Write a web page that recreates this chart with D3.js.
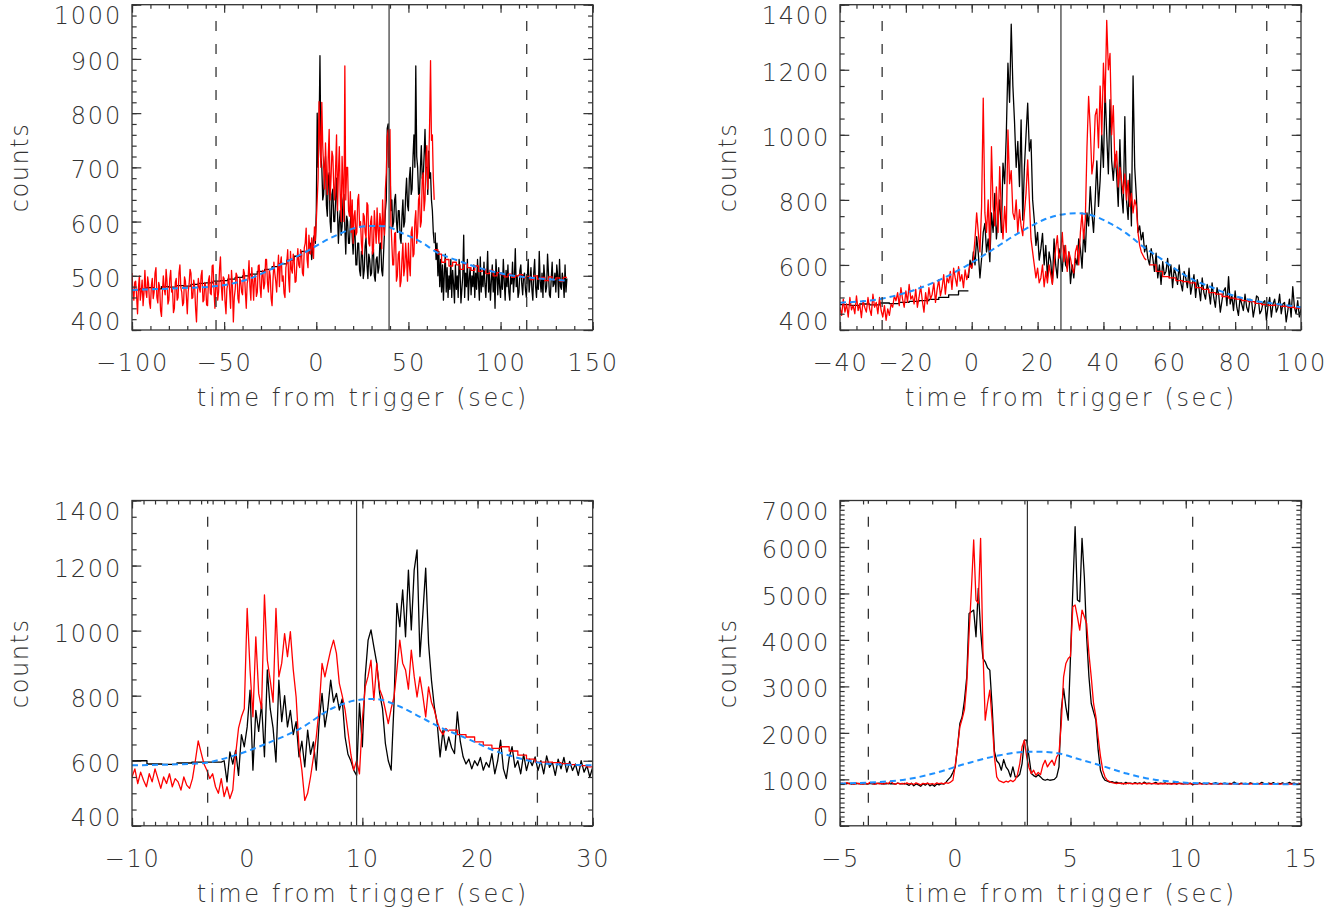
<!DOCTYPE html>
<html>
<head>
<meta charset="utf-8">
<script src="https://cdn.jsdelivr.net/npm/d3@7"></script>
<style>
  body { margin: 0; background: #fff; }
  svg text { font-family: 'DejaVu Sans', sans-serif; font-weight: 200; font-size: 24px; fill: #333; letter-spacing: 1.8px; }
</style>
</head>
<body>
<svg id="chart" width="1342" height="911"></svg>
<script>
// ---- panel 1 (time in s, counts) ----
const p1RedPre = [
  505, 470, 455, 488, 490, 462, 430, 478, 500, 455, 470, 492, 445, 468, 510, 472, 460, 498, 485, 450,
  440, 482, 495, 458, 470, 505, 515, 460, 450, 488, 480, 436, 425, 470, 500, 476, 465, 512, 490, 448,
  455, 495, 510, 470, 475, 432, 440, 488, 495, 455, 460, 505, 520, 478, 470, 445, 450, 498, 490, 462,
  430, 470, 485, 512, 505, 458, 460, 492, 480, 440, 415, 466, 495, 478, 470, 500, 510, 452, 455, 488,
  480, 446, 445, 492, 500, 468, 465, 518, 520, 470, 440, 488, 490, 455, 470, 512, 535, 480, 455, 498,
  495, 452, 430, 476, 485, 502, 470, 440, 510, 482, 415, 460, 475, 505, 500, 458, 450, 496, 490, 470,
  465, 512, 505, 470, 440, 486, 495, 528, 480, 455, 515, 490, 455, 500, 500, 462, 470, 518, 520, 480,
  460, 502, 510, 476, 485, 530, 530, 488, 470, 512, 500, 458, 445, 492, 525, 505, 490, 470, 510, 538,
  480, 522, 535, 490, 500, 468, 460, 515, 525, 548, 495, 470, 545, 512, 505, 540, 530, 488, 490, 525,
  550, 520, 515, 548, 540, 505, 500, 552, 560, 588, 530, 515, 575, 548, 540, 570, 555, 532, 590, 565,
  600
];
const p1RedBurst = [
  600, 640, 680, 821, 760, 700, 820, 740, 700, 660, 745, 690, 650, 720, 770, 640, 680, 730, 720, 660,
  640, 700, 760, 620, 690, 738, 650, 600, 720, 671, 600, 887, 640, 700, 700, 620, 610, 655, 580, 640,
  560, 610, 620, 575, 580, 640, 650, 590, 600, 560, 540, 615, 610, 580, 570, 635, 630, 560, 555, 600,
  610, 540, 545, 620, 590, 560, 625, 585, 560, 615, 600, 550, 640, 590, 575, 660, 690, 757, 769, 700,
  770, 600, 560, 520, 520, 578, 580, 490, 500, 540, 545, 480, 490, 530, 560, 500, 515, 560, 530, 490,
  560, 520, 500, 580, 590, 535, 540, 600, 620, 560, 580, 640, 650, 590, 600, 680, 690, 620, 640, 720,
  740, 660, 700, 780, 897, 750, 760, 680, 640
];
const p1RedBin = [
  548, 540, 525, 530, 518, 525, 520, 512, 522, 515, 510, 518, 508, 512, 504, 510, 500, 506,
  502, 498, 503, 497, 500, 502, 496, 499, 493, 500, 494, 497, 491, 498, 493, 496, 490, 497
];
const p1BlackBin = [
  474, 476, 478, 476, 480, 479, 482, 481, 484, 486, 487, 490,
  491, 494, 497, 500, 503, 508, 512, 517, 522, 529, 536, 545
];
const p1BlackBurst = [
  540, 552, 560, 530, 548, 570, 575, 560,
  620, 800, 700, 760, 906, 720, 700, 640, 650, 700, 720, 630, 610, 680, 690, 600, 580, 650, 660, 600,
  600, 640, 680, 620, 560, 600, 620, 575, 590, 640, 650, 590, 540, 610, 600, 560, 560, 600, 620, 570,
  540, 585, 580, 520, 520, 560, 560, 510, 500, 545, 545, 495, 510, 555, 570, 520, 495, 540, 530, 500,
  505, 545, 550, 500, 490, 530, 535, 505, 515, 560, 560, 510, 500, 540, 580, 620, 640, 772, 780, 700,
  700, 620, 640, 590, 600, 640, 650, 600, 580, 620, 620, 570, 560, 610, 640, 590, 600, 650, 680, 630,
  620, 680, 700, 650, 660, 720, 760, 700, 887, 720, 700, 650, 650, 700, 740, 680, 680, 720, 770, 700,
  700, 650, 730, 680, 690, 640, 620, 580, 560
];
const p1BlackTail = [
  580,
  530, 560, 500, 545, 480, 530, 470, 520, 455, 505, 540, 470, 515, 460, 500, 475, 530, 460, 510, 485,
  450, 520, 475, 500, 460, 530, 510, 450, 475, 500, 575, 460, 505, 480, 530, 455, 495, 515, 465, 500,
  480, 520, 460, 505, 475, 530, 490, 455, 535, 470, 500, 480, 525, 485, 460, 500, 545, 470, 505, 455,
  490, 520, 470, 505, 440, 530, 500, 465, 515, 480, 460, 505, 475, 530, 490, 455, 510, 480, 520, 470,
  455, 500, 485, 525, 470, 495, 550, 480, 500, 460, 470, 510, 520, 485, 465, 500, 505, 475, 460, 495,
  530, 470, 490, 515, 475, 455, 505, 530, 480, 460, 500, 475, 545, 490, 470, 505, 460, 520, 495, 470,
  480, 540, 505, 465, 460, 495, 525, 480, 485, 505, 470, 520, 500, 460, 530, 480, 475, 505, 490, 460,
  520, 470, 495
];
const p1BlueTime = [-100, -75, -54, -36, -18, -2, 4, 13, 22, 29, 38, 45, 58, 65, 76, 92, 107, 121, 136];
const p1BlueCounts = [474, 477, 481, 495, 523, 551, 563, 578, 589, 592, 591, 581, 560, 544, 529, 511, 500, 495, 491];

// ---- panel 2 ----
const p2RedFine = [
  470, 445, 495, 455, 480, 440, 500, 462, 475, 450, 505, 460, 480, 438, 490, 470, 455, 500, 465, 445,
  510, 470, 485, 450, 500, 460, 440, 475, 430, 465, 445, 480, 470, 505, 490, 515, 475, 530, 495, 470,
  520, 485, 540, 495, 505, 480, 525, 470, 500, 535, 490, 455, 515, 480, 530, 495, 510, 545, 485, 525,
  555, 505, 530, 570, 510, 560, 545, 580, 525, 590, 560, 535, 595, 550, 570, 530, 585, 555, 575, 600,
  590, 620, 680, 760, 700, 640, 780, 1113, 760, 700, 800, 640, 964, 780, 720, 840, 700, 902, 760, 680,
  780, 700, 1015, 850, 890, 760, 740, 800, 700, 770, 720, 690, 760, 820, 923, 800, 680, 640, 600, 560,
  590, 545, 560, 600, 533, 580, 545, 600, 570, 540, 600, 650, 690, 620, 640, 700, 610, 660, 580, 640,
  620, 590, 575, 640, 660, 600, 700, 760, 680, 740, 960, 1118, 1020, 880, 920, 1060, 1080, 960, 1150, 1000,
  1220, 1100, 1352, 1200, 1250, 1000, 1090, 900, 950, 840, 900, 860, 820, 880, 800, 860, 780, 820, 760, 800,
  780, 700, 660, 640, 630, 620, 615
];
const p2RedBin = [
  600, 580, 564, 560, 552, 549, 545, 530, 525, 515, 510, 503,
  498, 495, 490, 487, 482, 478, 476, 477, 473, 470, 467
];
const p2BlackBin = [478, 476, 480, 477, 483, 481, 485, 488, 490, 494, 500, 508, 520];
const p2BlackFine = [
  560, 615, 590, 640, 600, 687, 636, 560, 620, 700, 728, 640, 680, 610, 760, 700, 820, 680, 740, 800,
  700, 913, 850, 1000, 1220, 1100, 1340, 1150, 1040, 900, 980, 841, 1046, 738, 900, 1000, 1097, 950, 985, 800,
  738, 660, 700, 615, 650, 697, 600, 660, 560, 640, 610, 543, 680, 600, 560, 650, 620, 580, 660, 600,
  590, 640, 543, 600, 560, 620, 600, 680, 650, 590, 700, 640, 760, 720, 841, 760, 700, 800, 920, 780,
  860, 1000, 900, 1139, 1000, 880, 1108, 920, 860, 940, 880, 780, 985, 820, 760, 1056, 800, 740, 880, 720,
  1181, 900, 810, 700, 720, 677, 700, 640, 660, 620, 600, 650, 620, 580, 636, 560, 600, 540, 610, 570,
  580, 620, 560, 600, 530, 590, 570, 540, 600, 545, 520, 580, 560, 530, 590, 510, 540, 570, 500, 555,
  530, 490, 560, 515, 495, 540, 520, 480, 545, 500, 470, 530, 510, 455, 490, 520, 530, 475, 564, 480,
  505, 460, 520, 470, 445, 500, 480, 460, 510, 470, 455, 495, 490, 440, 470, 505, 500, 450, 460, 485,
  490, 430, 475, 500, 440, 480, 495, 455, 470, 510, 450, 480, 485, 425, 460, 495, 440, 533, 470, 450,
  490, 440, 465
];
const p2BlueTime = [-40, -27, -12, -2, 8.6, 11.6, 17.7, 21.7, 26.8, 31.9, 35.9, 42, 47, 52.1, 57.2, 62.2, 67.3, 72.4, 77.4, 82.5, 92.6, 100];
const p2BlueCounts = [484, 497, 544, 595, 662, 682, 718, 738, 754, 759, 754, 728, 697, 656, 621, 585, 554, 533, 513, 497, 480, 470];

// ---- panel 3 ----
const p3RedFine = [
  550, 575, 530, 565, 540, 520, 560, 535, 575, 545,
  515, 550, 530, 560, 520, 545, 535, 510, 550, 525,
  515, 545, 600, 661, 625, 590, 571, 545, 560, 520,
  500, 545, 490, 520, 484, 510, 620, 700, 735, 760,
  1068, 879, 735, 981, 807, 760, 1110, 909, 848, 780,
  1068, 858, 900, 991, 920, 997, 880, 796, 640, 571,
  478, 500, 550, 610, 673, 760, 899, 858, 900, 940,
  971, 930, 838, 800, 756, 690, 620, 571, 600, 560,
  725, 827, 860, 909, 786, 899, 820, 796, 756, 714,
  760, 796, 880, 971, 900, 879, 820, 940, 860, 796,
  858, 800, 735, 827, 780, 756, 720, 694, 680, 699,
  690
];
const p3RedBin = [694, 680, 673, 658, 648, 638, 643, 630, 617, 605, 596, 596, 594, 591, 588, 585, 581];
const p3BlackBin = [600, 590, 589, 593, 596];
const p3BlackFine = [
  596, 596, 596, 596, 596, 596, 600, 535, 627, 590, 632, 555, 680, 643,
  704, 817, 571, 755, 690, 776, 612, 879, 760, 700,
  596, 848, 720, 800, 704, 755, 680, 720, 612, 660,
  581, 694, 620, 658, 571, 720, 807, 704, 760, 848,
  780, 807, 756, 790, 673, 620, 600, 571, 555, 776,
  643, 860, 971, 1002, 950, 900, 807, 760, 653, 600,
  571, 776, 1084, 1012, 1125, 981, 1186, 1002, 1186, 1248,
  920, 1050, 1192, 960, 848, 766, 714, 612, 694, 632,
  673, 640, 622, 750, 660, 612, 590, 605, 575, 600,
  585, 610, 571, 595, 580, 622, 560, 600, 663, 575,
  545, 610, 643, 580, 600, 560, 620, 570, 605, 585,
  612, 570, 600, 560, 615, 580, 595, 555, 605, 575,
  610, 565, 598, 570, 590, 555, 600, 565, 585, 550,
  580
];
const p3BlueTime = [-10, -4.1, -1.2, 1.7, 4.6, 7.5, 9.5, 11, 13.3, 15, 16.7, 19.1, 21.4, 23.7, 26, 30];
const p3BlueCounts = [586, 592, 615, 653, 699, 763, 786, 790, 766, 735, 704, 668, 632, 607, 591, 586];

// ---- panel 4 ----
const p4Red = [
  905, 920, 895, 930, 900, 915, 890, 925, 905, 910,
  895, 920, 900, 935, 910, 890, 920, 900, 915, 895,
  925, 905, 960, 910, 890, 920, 900, 915, 895, 925,
  900, 910, 890, 925, 905, 880, 915, 900, 920, 895,
  910, 890, 925, 905, 920, 900, 930, 915, 940, 980,
  1300, 1700, 2129, 2300, 2500, 3063, 4140, 5073, 6150, 4858,
  4786, 6186, 3800, 2273, 2632, 2919, 2273, 1483, 1052, 970,
  950, 930, 960, 940, 980, 950, 990, 1100, 1340, 1700,
  1842, 1483, 1250, 1124, 1196, 1088, 1150, 1100, 1300, 1411,
  1267, 1350, 1411, 1300, 1483, 1555, 2201, 3206, 3493, 3600,
  3650, 4714, 4750, 4498, 4211, 4642, 4498, 4355, 3700, 3206,
  2632, 2350, 1900, 1500, 1196, 1050, 980, 950, 930, 920,
  910, 925, 905, 915, 900, 920, 910, 905, 915, 900,
  912, 905, 918, 900, 910, 908, 915, 902, 910, 905,
  908, 900, 912, 905, 898, 910, 904, 912, 900, 906,
  902, 910, 905, 900, 908, 903, 910, 898, 905, 900,
  906, 900, 908, 902, 896, 905, 900, 907, 899, 904,
  900, 906, 898, 903, 900, 905, 897, 902, 900, 904,
  898, 903, 900, 896, 902, 899, 904, 897, 901, 898,
  902, 897, 900, 904, 896, 901, 898, 902, 896, 900,
  898
];
const p4Black = [
  910, 900, 915, 905, 920, 895, 910, 905, 915, 900,
  910, 905, 895, 915, 900, 910, 905, 920, 900, 910,
  905, 915, 900, 910, 895, 920, 905, 900, 915, 895,
  870, 915, 860, 900, 880, 850, 905, 875, 915, 860,
  890, 850, 900, 880, 910, 895, 940, 1000, 1052, 1150,
  1267, 1698, 2201, 2345, 2700, 3206, 4570, 4606, 4642, 4068,
  5109, 4211, 3601, 3529, 3400, 3350, 2560, 1600, 1400, 1340,
  1196, 1426, 1267, 1200, 1052, 1267, 1052, 1052, 1110, 1340,
  1842, 1842, 1483, 1124, 1080, 1052, 1100, 1052, 1000, 980,
  1000, 980, 990, 1000, 1052, 1267, 2488, 2955, 2560, 2273,
  3637, 5073, 6437, 4858, 4822, 6186, 5360, 4068, 3206, 2632,
  2450, 2273, 1627, 1196, 1052, 980, 960, 940, 950, 930,
  940, 915, 925, 900, 935, 910, 920, 905, 930, 910,
  925, 900, 940, 910, 920, 905, 915, 935, 900, 920,
  910, 925, 900, 915, 905, 930, 895, 920, 910, 900,
  915, 905, 920, 880, 910, 900, 925, 905, 915, 895,
  920, 900, 910, 930, 895, 915, 905, 920, 900, 910,
  905, 940, 910, 895, 920, 905, 915, 900, 925, 910,
  900, 915, 905, 935, 910, 895, 920, 905, 930, 900,
  915, 905, 925, 900, 910, 935, 905, 920, 900, 910,
  905
];
const p4BlueTime = [-5, -2.4, -0.95, 0.49, 1.94, 3.1, 3.82, 4.5, 5.27, 6.28, 7.44, 8.6, 9.6, 10.3, 15];
const p4BlueCounts = [909, 980, 1124, 1340, 1519, 1591, 1591, 1555, 1447, 1303, 1124, 995, 945, 920, 894];

// interval markers (s)
const dashedMarks = [[-54.4, 114.2], [-27.2, 89.6], [-3.43, 25.2], [-3.77, 10.3]];
const solidMarks = [39.5, 27.1, 9.5, 3.13];

const xTitle = 'time from trigger (sec)';
const yTitle = 'counts';

const svg = d3.select('#chart');
const TICK_X = 8, TICK_Y = 9.3;
const INK = '#333';

// a series segment: [start time, bin width, values, drawn as steps]
const panels = [
  {
    box: [132, 4.7, 460.7, 325.3], xDomain: [-100, 150], xMajor: 50, xMinor: 10,
    yDomain: [400, 1000], yMajor: 100, yMinor: 20,
    black: [[-100, 4, p1BlackBin, true], [-4, 0.5, p1BlackBurst, false], [64.5, 0.5, p1BlackTail, false]],
    red: [[-100, 0.5, p1RedPre, false], [0, 0.5, p1RedBurst, false], [64, 2, p1RedBin, true]],
    blue: [p1BlueTime, p1BlueCounts]
  },
  {
    box: [840, 4.7, 461, 325.3], xDomain: [-40, 100], xMajor: 20, xMinor: 5,
    yDomain: [400, 1400], yMajor: 200, yMinor: 50,
    black: [[-40, 3, p2BlackBin, true], [-1, 0.5, p2BlackFine, false]],
    red: [[-40, 0.5, p2RedFine, false], [54, 2, p2RedBin, true]],
    blue: [p2BlueTime, p2BlueCounts]
  },
  {
    box: [132, 500.5, 460.7, 325.3], xDomain: [-10, 30], xMajor: 10, xMinor: 1,
    yDomain: [400, 1400], yMajor: 200, yMinor: 50,
    black: [[-10, 1.3, p3BlackBin, true], [-3.5, 0.25, p3BlackFine, false]],
    red: [[-10, 0.25, p3RedFine, false], [17.5, 0.75, p3RedBin, true]],
    blue: [p3BlueTime, p3BlueCounts]
  },
  {
    box: [840, 500.5, 461, 325.3], xDomain: [-5, 15], xMajor: 5, xMinor: 1,
    yDomain: [0, 7000], yMajor: 1000, yMinor: 100,
    black: [[-5, 0.1, p4Black, false]],
    red: [[-5, 0.1, p4Red, false]],
    blue: [p4BlueTime, p4BlueCounts]
  }
];

const fmt = d => (d < 0 ? '\u2212' + Math.abs(d) : String(d));

function tickSet (domain, step) {
  return d3.range(domain[0], domain[1] + step * 1e-6, step);
}

function segPoints (seg) {
  const [t0, dt, vals, stepped] = seg;
  const pts = vals.map((v, i) => [t0 + i * dt, v]);
  if (stepped) pts.push([t0 + vals.length * dt, vals[vals.length - 1]]);
  return pts;
}

function drawPanel (p, idx) {
  const [left, top, w, h] = p.box;
  const x = d3.scaleLinear().domain(p.xDomain).range([left, left + w]);
  const y = d3.scaleLinear().domain(p.yDomain).range([top + h, top]);

  svg.append('clipPath').attr('id', 'clip' + idx)
    .append('rect').attr('x', left).attr('y', top).attr('width', w).attr('height', h);

  const plot = svg.append('g').attr('clip-path', 'url(#clip' + idx + ')');

  const drawSeg = (seg, color) => {
    const line = d3.line()
      .x(d => x(d[0])).y(d => y(d[1]))
      .curve(seg[3] ? d3.curveStepAfter : d3.curveLinear);
    plot.append('path')
      .datum(segPoints(seg))
      .attr('d', line)
      .attr('fill', 'none')
      .attr('stroke', color)
      .attr('stroke-width', 1.3)
      .attr('stroke-linejoin', 'round');
  };
  p.black.forEach(s => drawSeg(s, '#000'));
  p.red.forEach(s => drawSeg(s, '#ff0000'));

  const blueLine = d3.line().x(d => x(d[0])).y(d => y(d[1])).curve(d3.curveMonotoneX);
  plot.append('path')
    .datum(p.blue[0].map((t, i) => [t, p.blue[1][i]]))
    .attr('d', blueLine)
    .attr('fill', 'none')
    .attr('stroke', '#1e90ff')
    .attr('stroke-width', 2)
    .attr('stroke-dasharray', '6,4');

  // interval markers
  plot.selectAll('.dmark')
    .data(dashedMarks[idx])
    .enter().append('line')
    .attr('x1', d => x(d)).attr('x2', d => x(d))
    .attr('y1', top + h).attr('y2', top)
    .attr('stroke', INK).attr('stroke-width', 1.3)
    .attr('stroke-dasharray', '10,13');
  plot.append('line')
    .attr('x1', x(solidMarks[idx])).attr('x2', x(solidMarks[idx]))
    .attr('y1', top).attr('y2', top + h)
    .attr('stroke', INK).attr('stroke-width', 1.2);

  // axes: ticks on all four sides, pointing inward
  const xMaj = tickSet(p.xDomain, p.xMajor);
  const xMin = tickSet(p.xDomain, p.xMinor);
  const yMaj = tickSet(p.yDomain, p.yMajor);
  const yMin = tickSet(p.yDomain, p.yMinor);

  const axes = svg.append('g').attr('color', INK);
  const styleAxis = g => {
    g.select('.domain').remove();
    g.attr('font-size', null).attr('font-family', null);
    g.selectAll('line').attr('stroke-width', 1.2);
  };

  axes.append('g').attr('transform', `translate(0,${top + h})`)
    .call(d3.axisBottom(x).tickValues(xMin).tickSize(-TICK_X / 2).tickFormat(''))
    .call(styleAxis);
  axes.append('g').attr('transform', `translate(0,${top + h})`)
    .call(d3.axisBottom(x).tickValues(xMaj).tickSize(-TICK_X).tickFormat(fmt))
    .call(styleAxis)
    .call(g => g.selectAll('text').attr('dy', null).attr('y', 41));
  axes.append('g').attr('transform', `translate(0,${top})`)
    .call(d3.axisTop(x).tickValues(xMin).tickSize(-TICK_X / 2).tickFormat(''))
    .call(styleAxis);
  axes.append('g').attr('transform', `translate(0,${top})`)
    .call(d3.axisTop(x).tickValues(xMaj).tickSize(-TICK_X).tickFormat(''))
    .call(styleAxis);

  axes.append('g').attr('transform', `translate(${left},0)`)
    .call(d3.axisLeft(y).tickValues(yMin).tickSize(-TICK_Y / 2).tickFormat(''))
    .call(styleAxis);
  axes.append('g').attr('transform', `translate(${left},0)`)
    .call(d3.axisLeft(y).tickValues(yMaj).tickSize(-TICK_Y).tickPadding(10).tickFormat(fmt))
    .call(styleAxis)
    .call(g => g.selectAll('text')
      .attr('dy', null)
      .attr('y', d => d === p.yDomain[1] ? 19 : d === p.yDomain[0] ? -0.6 : 10.6));
  axes.append('g').attr('transform', `translate(${left + w},0)`)
    .call(d3.axisRight(y).tickValues(yMin).tickSize(-TICK_Y / 2).tickFormat(''))
    .call(styleAxis);
  axes.append('g').attr('transform', `translate(${left + w},0)`)
    .call(d3.axisRight(y).tickValues(yMaj).tickSize(-TICK_Y).tickFormat(''))
    .call(styleAxis);

  svg.append('rect')
    .attr('x', left).attr('y', top).attr('width', w).attr('height', h)
    .attr('fill', 'none').attr('stroke', INK).attr('stroke-width', 1.3);

  svg.append('text')
    .attr('x', left + w / 2).attr('y', top + h + 76)
    .attr('text-anchor', 'middle')
    .attr('textLength', 331).attr('lengthAdjust', 'spacing')
    .text(xTitle);
  svg.append('text')
    .attr('transform', `translate(${left - 104},${top + h / 2}) rotate(-90)`)
    .attr('text-anchor', 'middle')
    .attr('textLength', 90).attr('lengthAdjust', 'spacing')
    .text(yTitle);
}

panels.forEach(drawPanel);
</script>
</body>
</html>
